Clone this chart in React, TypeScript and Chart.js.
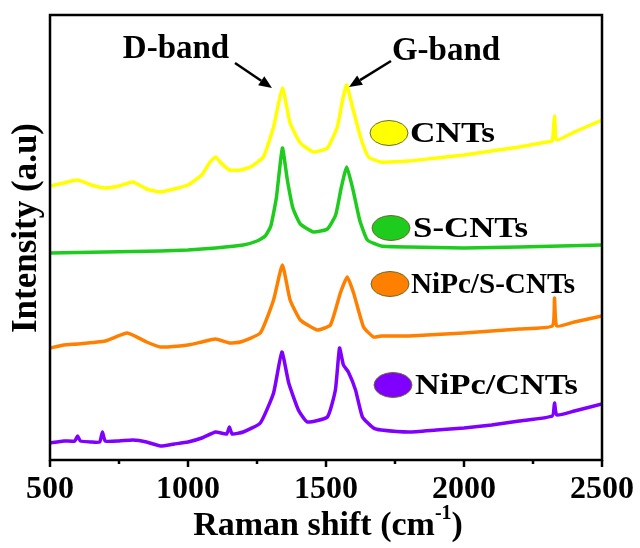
import React, { useEffect, useRef } from "react";
import { Chart, registerables } from "chart.js";

Chart.register(...registerables);

// ---- Data (Raman shift in cm^-1, intensity in arbitrary units, offset stacked) ----
const cntsShift = [500, 550, 600, 650, 700, 750, 800, 850, 900, 950, 1000, 1050, 1080, 1100, 1120, 1150, 1190, 1226, 1273, 1310, 1342, 1370, 1407, 1455, 1505, 1541, 1560, 1575, 1596, 1625, 1654, 1698, 1800, 1900, 2000, 2100, 2200, 2300, 2320, 2328, 2336, 2400, 2450, 2500];
const cntsIntensity = [274, 277, 280, 275, 272, 274, 278, 271, 268, 271, 275, 285, 298, 303, 297, 290, 290, 293, 303, 333, 372, 337, 317, 308, 312, 333, 360, 375, 353, 323, 303, 298, 299, 302, 305, 309, 313, 318, 319, 344, 320, 328, 334, 340];

const sCntsShift = [500, 700, 900, 1000, 1100, 1200, 1250, 1280, 1300, 1320, 1342, 1360, 1380, 1407, 1455, 1505, 1535, 1555, 1575, 1598, 1622, 1650, 1700, 1800, 2000, 2200, 2500];
const sCntsIntensity = [207, 208, 209, 210, 212, 215, 219, 224, 234, 262, 312, 280, 252, 236, 228, 231, 245, 272, 293, 270, 240, 220, 214, 213, 212, 213, 215];

const niPcSCntsShift = [500, 550, 600, 700, 780, 850, 900, 1000, 1050, 1100, 1150, 1190, 1262, 1310, 1342, 1370, 1407, 1468, 1516, 1552, 1577, 1600, 1636, 1672, 1700, 1800, 2000, 2200, 2320, 2328, 2336, 2400, 2500];
const niPcSCntsIntensity = [112, 115, 116, 119, 127, 118, 113, 115, 118, 121, 117, 118, 127, 160, 195, 160, 140, 130, 135, 167, 183, 167, 133, 123, 124, 124, 127, 131, 134, 162, 134, 138, 144];

const niPcCntsShift = [500, 550, 590, 600, 610, 650, 680, 690, 700, 750, 800, 850, 900, 950, 1000, 1050, 1100, 1140, 1150, 1160, 1200, 1262, 1310, 1340, 1365, 1400, 1432, 1505, 1534, 1549, 1563, 1581, 1607, 1632, 1672, 1700, 1800, 1900, 2000, 2100, 2200, 2320, 2328, 2336, 2400, 2500];
const niPcCntsIntensity = [17, 19, 19, 24, 19, 18, 18, 28, 19, 19, 20, 18, 14, 16, 18, 22, 28, 26, 33, 26, 28, 37, 67, 108, 77, 50, 38, 43, 70, 112, 95, 88, 70, 43, 32, 30, 28, 30, 32, 35, 39, 44, 57, 45, 49, 56];

const seriesLabels = ["CNTs", "S-CNTs", "NiPc/S-CNTs", "NiPc/CNTs"];
const seriesColors = ["#FFFF00", "#1ECC1E", "#FF8000", "#8000FF"];
const xTickValues = [500, 750, 1000, 1250, 1500, 1750, 2000, 2250, 2500];
const xMin = 500;
const xMax = 2500;
const yMin = 0;
const yMax = 445;

const FONT = "'Liberation Serif', 'Times New Roman', serif";

function pairs(xs: number[], ys: number[]) {
  return xs.map((x, i) => ({ x, y: ys[i] }));
}

const decorPlugin = {
  id: "decor",
  afterDraw(chart: any) {
    const { ctx, chartArea, scales } = chart;
    const { left, top, right, bottom } = chartArea;
    const xs = scales.x;
    ctx.save();

    // frame
    ctx.strokeStyle = "#000";
    ctx.lineWidth = 2.5;
    ctx.strokeRect(left, top, right - left, bottom - top);

    // ticks (outward)
    xTickValues.forEach((v) => {
      const px = xs.getPixelForValue(v);
      const major = v % 500 === 0;
      ctx.beginPath();
      ctx.moveTo(px, bottom);
      ctx.lineTo(px, bottom + (major ? 7 : 4));
      ctx.stroke();
    });

    ctx.fillStyle = "#000";
    ctx.textBaseline = "middle";

    // y title
    ctx.save();
    ctx.translate(27, 228);
    ctx.rotate(-Math.PI / 2);
    ctx.textAlign = "center";
    ctx.font = `bold 35px ${FONT}`;
    ctx.fillText("Intensity (a.u)", 0, 0);
    ctx.restore();

    // x title with superscript
    {
      const main1 = "Raman shift (cm";
      const sup = "-1";
      const main2 = ")";
      ctx.font = `bold 34px ${FONT}`;
      const w1 = ctx.measureText(main1).width;
      const w3 = ctx.measureText(main2).width;
      ctx.font = `bold 20px ${FONT}`;
      const w2 = ctx.measureText(sup).width;
      const total = w1 + w2 + w3;
      const x0 = 328 - total / 2;
      const y0 = 526;
      ctx.textAlign = "left";
      ctx.font = `bold 34px ${FONT}`;
      ctx.fillText(main1, x0, y0);
      ctx.font = `bold 20px ${FONT}`;
      ctx.fillText(sup, x0 + w1, y0 - 12);
      ctx.font = `bold 34px ${FONT}`;
      ctx.fillText(main2, x0 + w1 + w2, y0);
    }

    // band annotations
    ctx.font = `bold 33px ${FONT}`;
    ctx.textAlign = "center";
    ctx.fillText("D-band", 176, 49);
    ctx.fillText("G-band", 446, 51);

    const arrow = (x1: number, y1: number, x2: number, y2: number) => {
      const ang = Math.atan2(y2 - y1, x2 - x1);
      const hl = 13;
      const hw = 5.5;
      const bx = x2 - hl * Math.cos(ang);
      const by = y2 - hl * Math.sin(ang);
      ctx.lineWidth = 2.5;
      ctx.beginPath();
      ctx.moveTo(x1, y1);
      ctx.lineTo(bx, by);
      ctx.stroke();
      ctx.beginPath();
      ctx.moveTo(x2, y2);
      ctx.lineTo(bx + hw * Math.sin(ang), by - hw * Math.cos(ang));
      ctx.lineTo(bx - hw * Math.sin(ang), by + hw * Math.cos(ang));
      ctx.closePath();
      ctx.fill();
    };
    arrow(235, 63, 272, 88);
    arrow(391, 61, 349, 87);

    // legend labels with ellipse markers
    const legendMarks = [
      [389, 133],
      [391, 228],
      [390, 284],
      [393, 385],
    ];
    const legendText = [
      [410, 85],
      [413, 115],
      [411, 164],
      [415, 163],
    ];
    legendMarks.forEach(([cx, cy], i) => {
      ctx.beginPath();
      ctx.ellipse(cx, cy, 19, 12.5, 0, 0, Math.PI * 2);
      ctx.fillStyle = seriesColors[i];
      ctx.fill();
      ctx.lineWidth = 1;
      ctx.strokeStyle = "#6b6b2a";
      ctx.stroke();
      ctx.fillStyle = "#000";
      ctx.font = `bold 30px ${FONT}`;
      ctx.textAlign = "left";
      const [tx, tw] = legendText[i];
      const mw = ctx.measureText(seriesLabels[i]).width;
      ctx.save();
      ctx.translate(tx, cy + 1);
      ctx.scale(tw / mw, 1);
      ctx.fillText(seriesLabels[i], 0, 0);
      ctx.restore();
    });

    ctx.restore();
  },
};

export default function App() {
  const canvasRef = useRef<HTMLCanvasElement | null>(null);

  useEffect(() => {
    const canvas = canvasRef.current;
    if (!canvas) return;
    const allData = [
      pairs(cntsShift, cntsIntensity),
      pairs(sCntsShift, sCntsIntensity),
      pairs(niPcSCntsShift, niPcSCntsIntensity),
      pairs(niPcCntsShift, niPcCntsIntensity),
    ];
    const chart = new Chart(canvas, {
      type: "line",
      data: {
        datasets: allData.map((d, i) => ({
          label: seriesLabels[i],
          data: d,
          borderColor: seriesColors[i],
          backgroundColor: seriesColors[i],
          borderWidth: 3.5,
          pointRadius: 0,
          tension: 0.15,
          fill: false,
        })),
      },
      options: {
        animation: false,
        responsive: true,
        maintainAspectRatio: false,
        layout: { padding: { left: 50, top: 15, right: 38, bottom: 0 } },
        plugins: { legend: { display: false }, tooltip: { enabled: false } },
        scales: {
          x: {
            type: "linear",
            min: xMin,
            max: xMax,
            grid: { display: false, drawTicks: false },
            border: { display: false },
            ticks: {
              stepSize: 500,
              autoSkip: false,
              maxRotation: 0,
              padding: 11,
              color: "#000",
              font: { family: FONT, weight: "bold", size: 32 },
              callback: (v: any) => String(v),
            },
            afterFit: (scale: any) => {
              scale.height = 88;
              scale.paddingLeft = 0;
              scale.paddingRight = 0;
            },
          },
          y: {
            display: false,
            min: yMin,
            max: yMax,
          },
        },
      },
      plugins: [decorPlugin],
    });
    return () => chart.destroy();
  }, []);

  return (
    <div style={{ position: "absolute", left: 0, top: 0, width: 640, height: 548, background: "#fff" }}>
      <canvas ref={canvasRef} />
    </div>
  );
}
